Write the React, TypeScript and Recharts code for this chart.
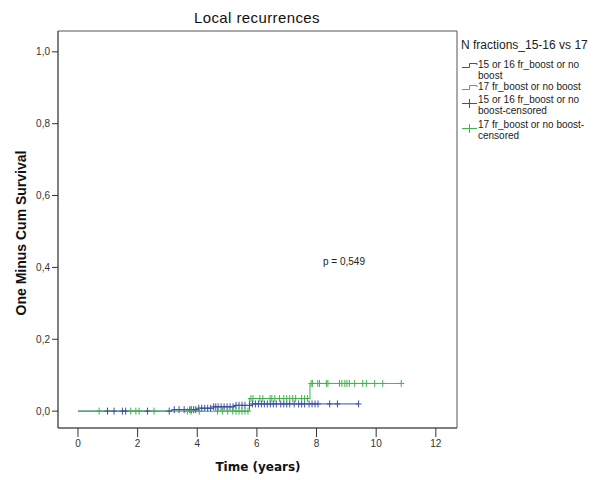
import { ComposedChart, Line, Scatter, XAxis, YAxis, ReferenceArea } from 'recharts';

// Kaplan-Meier steps (time in years, 1 - cum survival)
const blueTimes = [0, 3.15, 4.05, 4.55, 5.25, 5.85, 9.41];
const blueLevels = [0, 0.004, 0.008, 0.012, 0.016, 0.02, 0.02];
const greenTimes = [0, 5.75, 7.78, 10.9];
const greenLevels = [0, 0.035, 0.077, 0.077];

// censoring times
const blueCensored = [
  0.99, 1.21, 1.49, 1.6, 2.33, 3.06, 3.23, 3.39, 3.56, 3.75, 3.8, 3.88, 3.95, 4.05, 4.15,
  4.25, 4.35, 4.45, 4.55, 4.62, 4.7, 4.8, 4.9, 5.0, 5.1, 5.2, 5.3, 5.4, 5.5, 5.6, 5.75,
  5.85, 5.95, 6.05, 6.15, 6.25, 6.35, 6.45, 6.55, 6.65, 6.8, 6.9, 7.0, 7.1, 7.25, 7.4,
  7.5, 7.6, 7.75, 7.85, 7.95, 8.05, 8.44, 8.7, 9.41,
];
const greenCensored = [
  0.71, 1.77, 1.94, 2.05, 2.55, 3.67, 3.79, 4.07, 4.68, 4.85, 5.02, 5.19, 5.3, 5.4, 5.5,
  5.6, 5.7, 5.8, 5.87, 6.1, 6.2, 6.44, 6.5, 6.6, 6.76, 6.9, 7.0, 7.1, 7.2, 7.3, 7.5, 7.6,
  7.7, 7.82, 7.87, 8.04, 8.1, 8.33, 8.38, 8.77, 8.85, 8.95, 9.02, 9.1, 9.28, 9.55, 9.67,
  9.95, 10.22, 10.84,
];

const timeTicks = [0, 2, 4, 6, 8, 10, 12];
const survTicks = [0, 0.2, 0.4, 0.6, 0.8, 1.0];

const BLUE = '#3d4fa3';
const GREEN = '#3fb54a';

const levelAt = (times: number[], levels: number[], t: number) => {
  let v = levels[0];
  times.forEach((tt, i) => {
    if (tt <= t) v = levels[i];
  });
  return v;
};

const curve = (times: number[], levels: number[]) => times.map((t, i) => ({ t, y: levels[i] }));
const marks = (cens: number[], times: number[], levels: number[]) =>
  cens.map((t) => ({ t, y: levelAt(times, levels, t) }));

const Plus = (color: string) => (props: any) => {
  const { cx, cy } = props;
  return (
    <g stroke={color} strokeWidth={1}>
      <line x1={cx} y1={cy - 3.5} x2={cx} y2={cy + 3.5} />
      <line x1={cx - 3} y1={cy} x2={cx + 3} y2={cy} />
    </g>
  );
};

const StepIcon = ({ color }: { color: string }) => (
  <svg width={16} height={10} style={{ position: 'absolute', left: -16, top: 0 }}>
    <polyline points="0,7.5 7.5,7.5 7.5,3.5 15,3.5 15,5" fill="none" stroke={color} strokeWidth={1} />
  </svg>
);
const PlusIcon = ({ color }: { color: string }) => (
  <svg width={16} height={14} style={{ position: 'absolute', left: -16, top: 3 }}>
    <line x1={0} y1={5.5} x2={15} y2={5.5} stroke={color} />
    <line x1={7.5} y1={1} x2={7.5} y2={10} stroke={color} />
  </svg>
);

const legendItems = [
  { label: ['15 or 16 fr_boost or no', 'boost'], color: BLUE, kind: 'step' },
  { label: ['17 fr_boost or no boost'], color: GREEN, kind: 'step' },
  { label: ['15 or 16 fr_boost or no', 'boost-censored'], color: BLUE, kind: 'plus' },
  { label: ['17 fr_boost or no boost-', 'censored'], color: GREEN, kind: 'plus' },
];
const legendTops = [60, 81.5, 95, 120];

export default function App() {
  const font = '"Liberation Sans", Arial, sans-serif';
  return (
    <div style={{ position: 'absolute', left: 0, top: 0, width: 594, height: 480, background: '#fff', fontFamily: font }}>
      <ComposedChart width={594} height={480} margin={{ top: 31, right: 137, left: 0, bottom: 0 }}>
        <XAxis
          dataKey="t"
          type="number"
          domain={[-0.67, 12.71]}
          ticks={timeTicks}
          allowDataOverflow
          height={52}
          tickSize={9}
          tickMargin={3}
          axisLine={{ stroke: '#555' }}
          tickLine={{ stroke: '#333' }}
          tick={{ fontSize: 10, fill: '#333', fontFamily: font }}
        />
        <YAxis
          dataKey="y"
          type="number"
          domain={[-0.047, 1.058]}
          ticks={survTicks}
          allowDataOverflow
          width={58}
          tickSize={6}
          tickMargin={2}
          axisLine={{ stroke: '#555' }}
          tickLine={{ stroke: '#333' }}
          tick={{ fontSize: 10, fill: '#333', fontFamily: font }}
          tickFormatter={(v: number) => v.toFixed(1).replace('.', ',')}
        />
        <ReferenceArea x1={-0.67} x2={12.71} y1={-0.047} y2={1.058} fill="none" stroke="#555" ifOverflow="visible" />
        <Line data={curve(blueTimes, blueLevels)} dataKey="y" type="stepAfter" stroke={BLUE} strokeWidth={1} dot={false} isAnimationActive={false} />
        <Line data={curve(greenTimes, greenLevels)} dataKey="y" type="stepAfter" stroke={GREEN} strokeWidth={1} dot={false} isAnimationActive={false} />
        <Scatter data={marks(blueCensored, blueTimes, blueLevels)} dataKey="y" shape={Plus(BLUE)} isAnimationActive={false} />
        <Scatter data={marks(greenCensored, greenTimes, greenLevels)} dataKey="y" shape={Plus(GREEN)} isAnimationActive={false} />
      </ComposedChart>

      <div style={{ position: 'absolute', left: 0, width: 514, top: 9, textAlign: 'center', fontSize: 15, color: '#111', letterSpacing: 0.4 }}>
        Local recurrences
      </div>
      <div
        style={{
          position: 'absolute', left: 21, top: 233, width: 260, marginLeft: -130, textAlign: 'center',
          transform: 'rotate(-90deg)', fontSize: 14, fontWeight: 'bold', color: '#111', lineHeight: '16px', marginTop: -8,
        }}
      >
        One Minus Cum Survival
      </div>
      <div style={{ position: 'absolute', left: 0, width: 516, top: 460, textAlign: 'center', fontSize: 12, fontWeight: 'bold', fontFamily: '"DejaVu Sans", sans-serif', color: '#111' }}>
        Time (years)
      </div>
      <div style={{ position: 'absolute', left: 323, top: 256, fontSize: 10, color: '#222' }}>p = 0,549</div>

      <div style={{ position: 'absolute', left: 461, top: 38, fontSize: 12, color: '#222', whiteSpace: 'nowrap' }}>
        N fractions_15-16 vs 17
      </div>
      {legendItems.map((it, i) => (
        <div
          key={i}
          style={{ position: 'absolute', left: 478, top: legendTops[i], fontSize: 10, color: '#222', lineHeight: '10.5px', whiteSpace: 'nowrap' }}
        >
          {it.kind === 'step' ? <StepIcon color={it.color} /> : <PlusIcon color={it.color} />}
          {it.label.map((l, j) => (
            <div key={j}>{l}</div>
          ))}
        </div>
      ))}
    </div>
  );
}
